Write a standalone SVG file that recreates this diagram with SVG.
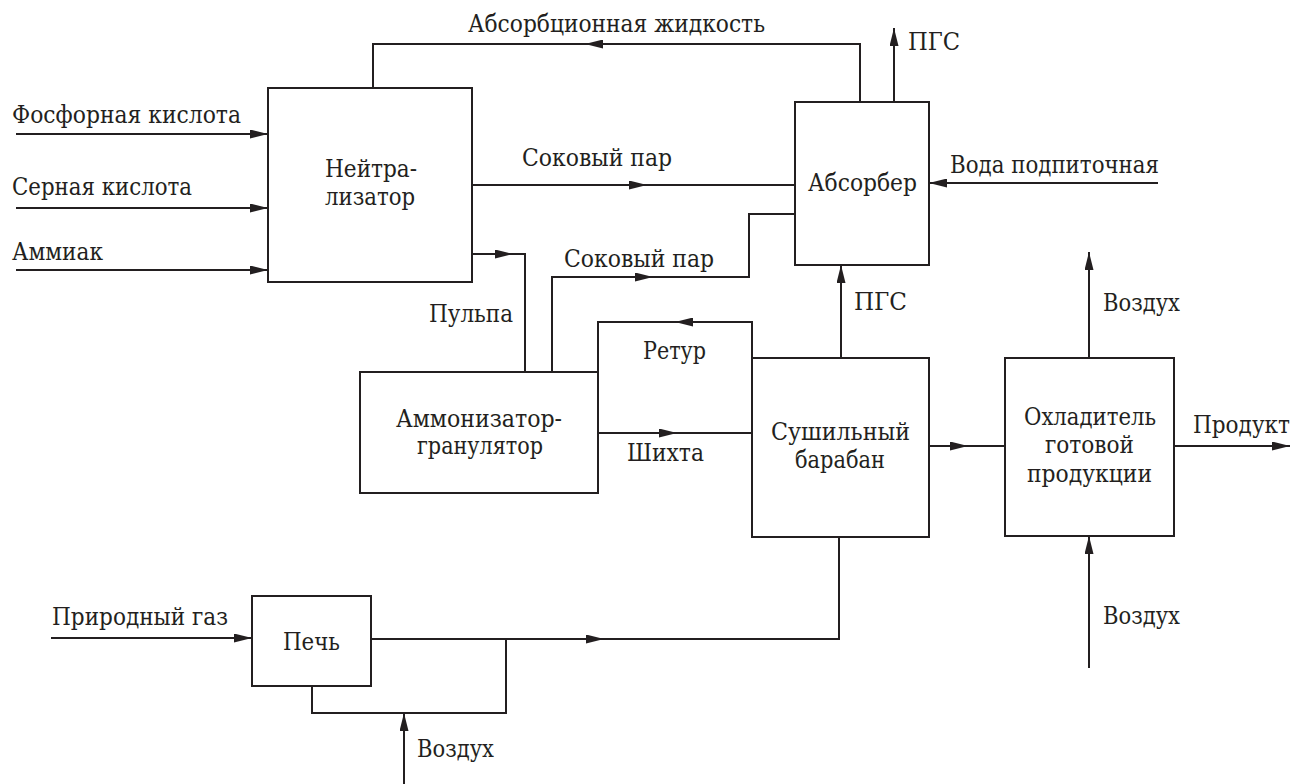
<svg xmlns="http://www.w3.org/2000/svg" width="1293" height="784" viewBox="0 0 1293 784">
<defs>
<marker id="ah" markerUnits="userSpaceOnUse" markerWidth="18" markerHeight="9" refX="18" refY="4.5" orient="auto">
<path d="M0,0 L18,4.5 L0,9 z" fill="#231f20"/>
</marker>
<style>
.box{fill:#fff;stroke:#231f20;stroke-width:2}
.ln{fill:none;stroke:#231f20;stroke-width:2}
.ar{fill:none;stroke:#231f20;stroke-width:2;marker-end:url(#ah)}
text{font-family:"DejaVu Serif Condensed","DejaVu Serif",serif;font-stretch:condensed;font-size:24px;fill:#231f20}
.c{text-anchor:middle}
</style>
</defs>
<rect width="1293" height="784" fill="#fff"/>
<g id="connectors">
<path class="ar" d="M16,134 L268,134"/>
<path class="ar" d="M16,208 L268,208"/>
<path class="ar" d="M16,270 L268,270"/>
<path class="ln" d="M860,102 L860,44 L585,44"/>
<path class="ar" d="M620,44 L585,44"/>
<path class="ln" d="M585,44 L373,44 L373,88"/>
<path class="ar" d="M894,102 L894,28"/>
<path class="ar" d="M1158,183 L929,183"/>
<path class="ar" d="M472,185 L647,185"/>
<path class="ln" d="M647,185 L795,185"/>
<path class="ar" d="M472,254 L513,254"/>
<path class="ln" d="M513,254 L525,254 L525,372"/>
<path class="ln" d="M552,372 L552,277 L653,277"/>
<path class="ar" d="M620,277 L653,277"/>
<path class="ln" d="M653,277 L749,277 L749,214 L795,214"/>
<path class="ar" d="M841,358 L841,265"/>
<path class="ln" d="M752,358 L752,322 L675,322"/>
<path class="ar" d="M700,322 L675,322"/>
<path class="ln" d="M675,322 L598,322 L598,372"/>
<path class="ar" d="M598,433 L677,433"/>
<path class="ln" d="M677,433 L752,433"/>
<path class="ar" d="M929,446 L968,446"/>
<path class="ln" d="M968,446 L1005,446"/>
<path class="ar" d="M1174,446 L1290,446"/>
<path class="ar" d="M1089,358 L1089,252"/>
<path class="ar" d="M1089,668 L1089,536"/>
<path class="ar" d="M51,638 L252,638"/>
<path class="ar" d="M371,639 L604,639"/>
<path class="ln" d="M604,639 L839,639 L839,536"/>
<path class="ln" d="M312,686 L312,713 L506,713 L506,639"/>
<path class="ar" d="M404,784 L404,713"/>
</g>
<g id="labels">
<text x="12" y="123" textLength="229" lengthAdjust="spacingAndGlyphs">Фосфорная кислота</text>
<text x="12" y="195" textLength="180" lengthAdjust="spacingAndGlyphs">Серная кислота</text>
<text x="12" y="260" textLength="91" lengthAdjust="spacingAndGlyphs">Аммиак</text>
<text x="468" y="32" textLength="297" lengthAdjust="spacingAndGlyphs">Абсорбционная жидкость</text>
<text x="908" y="50" textLength="52" lengthAdjust="spacingAndGlyphs">ПГС</text>
<text x="522" y="166" textLength="150" lengthAdjust="spacingAndGlyphs">Соковый пар</text>
<text x="950" y="173" textLength="209" lengthAdjust="spacingAndGlyphs">Вода подпиточная</text>
<text x="564" y="267" textLength="150" lengthAdjust="spacingAndGlyphs">Соковый пар</text>
<text x="429" y="322" textLength="84" lengthAdjust="spacingAndGlyphs">Пульпа</text>
<text x="854" y="310" textLength="53" lengthAdjust="spacingAndGlyphs">ПГС</text>
<text x="1103" y="311" textLength="77" lengthAdjust="spacingAndGlyphs">Воздух</text>
<text x="643" y="359" textLength="63" lengthAdjust="spacingAndGlyphs">Ретур</text>
<text x="627" y="461" textLength="77" lengthAdjust="spacingAndGlyphs">Шихта</text>
<text x="1193" y="433" textLength="97" lengthAdjust="spacingAndGlyphs">Продукт</text>
<text x="1103" y="624" textLength="77" lengthAdjust="spacingAndGlyphs">Воздух</text>
<text x="52" y="625" textLength="176" lengthAdjust="spacingAndGlyphs">Природный газ</text>
<text x="417" y="757" textLength="77" lengthAdjust="spacingAndGlyphs">Воздух</text>
</g>
<g id="neutralizer">
<rect class="box" x="268" y="88" width="204" height="194"/>
<text x="325" y="177" textLength="92" lengthAdjust="spacingAndGlyphs">Нейтра-</text>
<text x="325" y="205" textLength="90" lengthAdjust="spacingAndGlyphs">лизатор</text>
</g>
<g id="absorber">
<rect class="box" x="795" y="102" width="134" height="163"/>
<text x="808" y="191" textLength="109" lengthAdjust="spacingAndGlyphs">Абсорбер</text>
</g>
<g id="ammonizer">
<rect class="box" x="360" y="372" width="238" height="121"/>
<text x="396" y="427" textLength="166" lengthAdjust="spacingAndGlyphs">Аммонизатор-</text>
<text x="417" y="454" textLength="126" lengthAdjust="spacingAndGlyphs">гранулятор</text>
</g>
<g id="dryer">
<rect class="box" x="752" y="358" width="177" height="179"/>
<text x="771" y="440" textLength="139" lengthAdjust="spacingAndGlyphs">Сушильный</text>
<text x="795" y="468" textLength="90" lengthAdjust="spacingAndGlyphs">барабан</text>
</g>
<g id="cooler">
<rect class="box" x="1005" y="358" width="169" height="178"/>
<text x="1024" y="425" textLength="132" lengthAdjust="spacingAndGlyphs">Охладитель</text>
<text x="1045" y="453" textLength="89" lengthAdjust="spacingAndGlyphs">готовой</text>
<text x="1027" y="482" textLength="125" lengthAdjust="spacingAndGlyphs">продукции</text>
</g>
<g id="furnace">
<rect class="box" x="252" y="596" width="119" height="90"/>
<text x="283" y="650" textLength="57" lengthAdjust="spacingAndGlyphs">Печь</text>
</g>
</svg>
